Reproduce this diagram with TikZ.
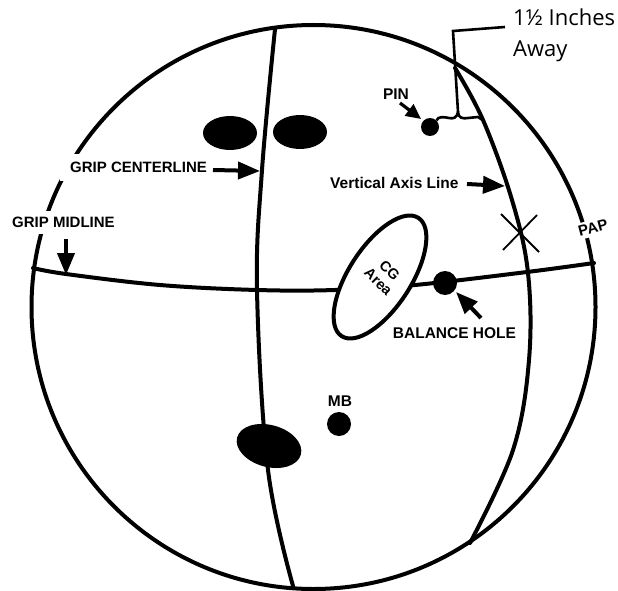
\documentclass[tikz,border=0pt]{standalone}
\usepackage{fontspec}
\setmainfont{Liberation Sans}
\newfontfamily\noteFont{Open Sans}
\usetikzlibrary{arrows.meta,shapes.geometric}
\tikzset{
  x=1pt,y=-1pt,
  heavy/.style={line width=4pt,line cap=round},
  hole/.style={circle,fill=black,inner sep=0pt},
  grip/.style={ellipse,fill=black,inner sep=0pt},
  lbl/.style={font=\fontsize{15}{17}\selectfont\bfseries,inner sep=0pt,text=black},
  gaplbl/.style={lbl,fill=white},
  pointer/.style={line width=4pt,-{Triangle[width=17pt,length=22pt]}},
  smallpointer/.style={line width=3.2pt,-{Triangle[width=14pt,length=15pt]}},
}
\begin{document}
\begin{tikzpicture}
\useasboundingbox (0,0) rectangle (618,591);
\node[circle,draw,line width=4pt,minimum size=564pt,inner sep=0pt] (ball) at (313.5,307) {};
% named ends
\coordinate (gcTop) at (275,29);
\coordinate (gcBot) at (293,586);
\coordinate (vaTop) at (455,68);
\coordinate (vaBot) at (470,543);
\coordinate (gmL) at (33,268);
\coordinate (gmR) at (594,263);
% lines
\draw[heavy] plot[smooth,tension=.6] coordinates {(gcTop) (262,170) (257,290) (268,470) (gcBot)};
\draw[heavy] plot[smooth,tension=.6] coordinates {(vaTop) (483,120) (512,200) (528,273) (529,360) (513,450) (vaBot)};
\draw[heavy] plot[smooth,tension=.6] coordinates {(gmL) (66,274) (160,285) (257,290) (335,290) (415,285) (527,272) (gmR)};
% holes
\node[grip,minimum width=54pt,minimum height=34pt] (f1) at (230,133) {};
\node[grip,minimum width=54pt,minimum height=34pt] (f2) at (300,132) {};
\node[grip,minimum width=66pt,minimum height=42pt,rotate=-15] (thumb) at (269,446) {};
\node[hole,minimum size=24pt] (mb) at (339,424) {};
\node[hole,minimum size=24pt] (bh) at (445,283) {};
\node[hole,minimum size=18pt] (pin) at (430,127) {};
% CG ellipse
\node[ellipse,draw,fill=white,line width=4pt,minimum width=141pt,minimum height=62pt,inner sep=0pt,rotate=57] (cg) at (380,277) {};
\node[font=\fontsize{14.5}{16}\selectfont\bfseries,align=center,rotate=-45,inner sep=0pt] (cgtext) at (384,276) {CG\\Area};
% X mark
\coordinate (xa) at (501,214); \coordinate (xb) at (539,252);
\coordinate (xc) at (537,215); \coordinate (xd) at (503,250);
\draw[line width=1.8pt] (xa) -- (xb) (xc) -- (xd);
% labels
\node[gaplbl,inner xsep=10pt,minimum height=27pt,anchor=west] (lgc) at (60,167) {GRIP CENTERLINE};
\node[gaplbl,inner xsep=3pt,minimum height=23pt,anchor=west] (lgm) at (9,222) {GRIP MIDLINE};
\node[lbl,anchor=west] (lva) at (330,183) {\fontsize{15.5}{17}\selectfont Vertical Axis Line};
\node[lbl] (lpin) at (396,94) {\fontsize{15.5}{17}\selectfont PIN};
\node[lbl] (lbh) at (454.5,333) {\fontsize{15.5}{17}\selectfont BALANCE HOLE};
\node[lbl] (lmb) at (340,401) {\fontsize{15.5}{17}\selectfont MB};
\node[gaplbl,rotate=15,inner sep=3pt] (lpap) at (593,228) {PAP};
\node[font=\noteFont\fontsize{22}{31}\selectfont,align=left,anchor=north west,inner sep=0pt] (note) at (513,9) {1½ Inches\\Away};
% arrows
\coordinate (a1) at (213,170); \coordinate (a1t) at (260,171);
\coordinate (a2) at (66,239); \coordinate (a2t) at (66,275);
\coordinate (a3) at (467,184); \coordinate (a3t) at (505,186);
\coordinate (a4) at (400,103); \coordinate (a4t) at (421,119);
\coordinate (a5) at (481,318); \coordinate (a5t) at (456,292);
\draw[pointer] (a1) -- (a1t);
\draw[pointer] (a2) -- (a2t);
\draw[pointer] (a3) -- (a3t);
\draw[smallpointer] (a4) -- (a4t);
\draw[pointer] (a5) -- (a5t);
% bracket
\coordinate (brR) at (484,121);
\coordinate (st) at (458,112);
\coordinate (stTop) at (453,31);
\coordinate (stEnd) at (505,27);
\draw[line width=2.6pt] (pin.north east) .. controls (438,116) and (444,117) .. (449,118) .. controls (453,119) and (457,118) .. (st) .. controls (458,118) and (463,119) .. (468,118) -- (478,117) -- (brR);
\draw[line width=2.6pt] (st) -- (stTop) -- (stEnd);
\end{tikzpicture}
\end{document}
